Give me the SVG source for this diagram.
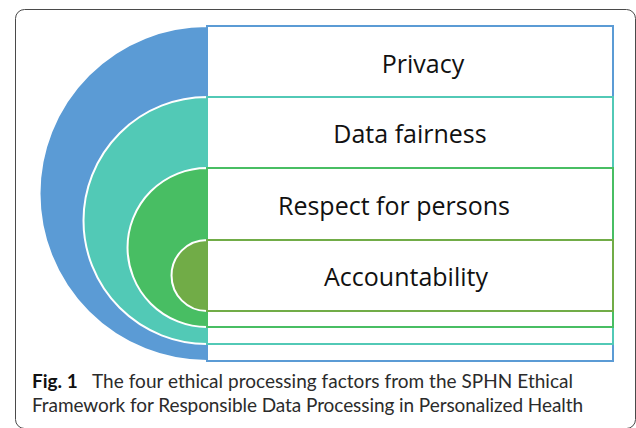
<svg xmlns="http://www.w3.org/2000/svg" width="636" height="428" viewBox="0 0 636 428">
  <style>
    .frame { fill: #ffffff; stroke: #4a4a4a; stroke-width: 1; }
    .arc { stroke: #ffffff; stroke-width: 2; }
    .box { fill: #ffffff; stroke-width: 2; }
    .label { font-family: "Open Sans", "Liberation Sans", sans-serif; font-size: 25px; fill: #111111; text-anchor: middle; }
    .caption { font-family: Lato, "Open Sans", "Liberation Sans", sans-serif; font-size: 19px; fill: #2b2b2b; }
    .fig { font-weight: bold; fill: #111111; }
    .blue { fill: #5b9bd5; }
    .teal { fill: #52c9b6; }
    .green { fill: #48be63; }
    .olive { fill: #71ac47; }
  </style>

  <!-- figure frame -->
  <rect class="frame" x="15.5" y="9.5" width="620" height="419" rx="9" ry="9"/>

  <g id="connectors"/>

  <!-- outermost ring and its row -->
  <g id="privacy">
    <path class="arc blue" d="M207,26 A167.5,167.5 0 0 0 207,361 Z"/>
    <rect class="box" x="207" y="26" width="406" height="335" stroke="#5b9bd5"/>
    <text class="label" x="423" y="73">Privacy</text>
  </g>

  <g id="data-fairness">
    <path class="arc teal" d="M207,97 A123.5,123.5 0 0 0 207,344 Z"/>
    <rect class="box" x="207" y="97" width="406" height="247" stroke="#52c9b6"/>
    <text class="label" x="410" y="143">Data fairness</text>
  </g>

  <g id="respect-for-persons">
    <path class="arc green" d="M207,168 A79.5,79.5 0 0 0 207,327 Z"/>
    <rect class="box" x="207" y="168" width="406" height="159" stroke="#48be63"/>
    <text class="label" x="394" y="215">Respect for persons</text>
  </g>

  <!-- innermost core -->
  <g id="accountability">
    <path class="arc olive" d="M207,240 A35.5,35.5 0 0 0 207,311 Z"/>
    <rect class="box" x="207" y="240" width="406" height="71" stroke="#71ac47"/>
    <text class="label" x="406" y="286">Accountability</text>
  </g>

  <!-- caption -->
  <g id="caption" class="caption">
    <text x="32" y="388" class="fig">Fig. 1</text>
    <text x="92" y="388" textLength="481">The four ethical processing factors from the SPHN Ethical</text>
    <text x="32" y="412" textLength="551">Framework for Responsible Data Processing in Personalized Health</text>
  </g>
</svg>
